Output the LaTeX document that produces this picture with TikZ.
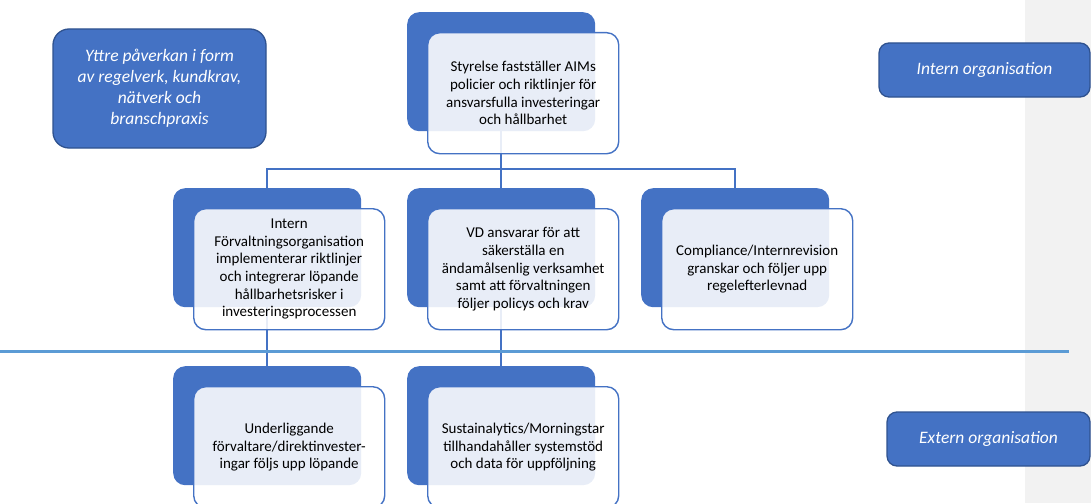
\documentclass[tikz,border=0pt]{standalone}
\usepackage{fontspec}
\setmainfont{Carlito}
\usetikzlibrary{positioning}

\definecolor{aimblue}{HTML}{4472C4}
\definecolor{aimnavy}{HTML}{2F528F}
\definecolor{aimsep}{HTML}{5B9BD5}
\definecolor{aimgray}{HTML}{F2F2F2}

\tikzset{
  backbox/.style={fill=aimblue, rounded corners=12pt, minimum width=188pt,
                  minimum height=119pt, inner sep=0pt, anchor=north west},
  frontbox/.style={draw=aimblue, line width=1.4pt, fill=white, fill opacity=0.88,
                   text opacity=1, rounded corners=12pt, minimum width=191pt,
                   minimum height=121pt, inner sep=2pt, align=center,
                   font=\fontsize{15}{17.6}\selectfont,
                   below right=20pt and 20pt of #1},
  labelbox/.style={draw=aimnavy, line width=1.3pt, fill=aimblue, text=white,
                   inner sep=0pt, align=center,
                   font=\itshape\fontsize{17.5}{21}\selectfont},
  conn/.style={draw=aimblue, line width=1.8pt},
  sepline/.style={draw=aimsep, line width=3pt}
}

\begin{document}
\begin{tikzpicture}[x=1pt,y=-1pt]
\useasboundingbox (0,0) rectangle (1091,503);
\clip (0,0) rectangle (1091,503);

% right margin band
\fill[aimgray] (1025,0) rectangle (1091,503);

% dark back plates
\node[backbox] (top) at (407,12) {};
\node[backbox] (m1) at (173,188) {};
\node[backbox] (m2) at (407,188) {};
\node[backbox] (m3) at (641,188) {};
\node[backbox] (b1) at (173,366) {};
\node[backbox] (b2) at (407,366) {};

% connectors
\coordinate (bus) at (501,169);
\draw[conn] (top.south) -- (m2.north);
\draw[conn] (m1.north) |- (bus) -| (m3.north);
\draw[conn] (m1.south) -- (b1.north);
\draw[conn] (m2.south) -- (b2.north);

% divider between intern and extern
\draw[sepline] (0,351) -- (1069,351);

% text plates
\node[frontbox=top.north west] (topt) {Styrelse fastställer AIMs\\policier och riktlinjer för\\ansvarsfulla investeringar\\och hållbarhet};
\node[frontbox=m1.north west] (m1t) {Intern\\Förvaltningsorganisation\\implementerar riktlinjer\\och integrerar löpande\\hållbarhetsrisker i\\investeringsprocessen};
\node[frontbox=m2.north west] (m2t) {VD ansvarar för att\\säkerställa en\\ändamålsenlig verksamhet\\samt att förvaltningen\\följer policys och krav};
\node[frontbox=m3.north west] (m3t) {Compliance/Internrevision\\granskar och följer upp\\regelefterlevnad};
\node[frontbox=b1.north west] (b1t) {Underliggande\\förvaltare/direktinvester-\\ingar följs upp löpande};
\node[frontbox=b2.north west] (b2t) {Sustainalytics/Morningstar\\tillhandahåller systemstöd\\och data för uppföljning};

% side labels
\node[labelbox, rounded corners=16pt, minimum width=213pt, minimum height=119pt]
  (yttre) at (159.5,88.5) {Yttre påverkan i form\\av regelverk, kundkrav,\\nätverk och\\branschpraxis};
\node[labelbox, rounded corners=10pt, minimum width=211pt, minimum height=54pt]
  (intern) at (984.5,70) {Intern organisation};
\node[labelbox, rounded corners=10pt, minimum width=203pt, minimum height=54pt]
  (extern) at (988.5,439) {Extern organisation};

\end{tikzpicture}
\end{document}
